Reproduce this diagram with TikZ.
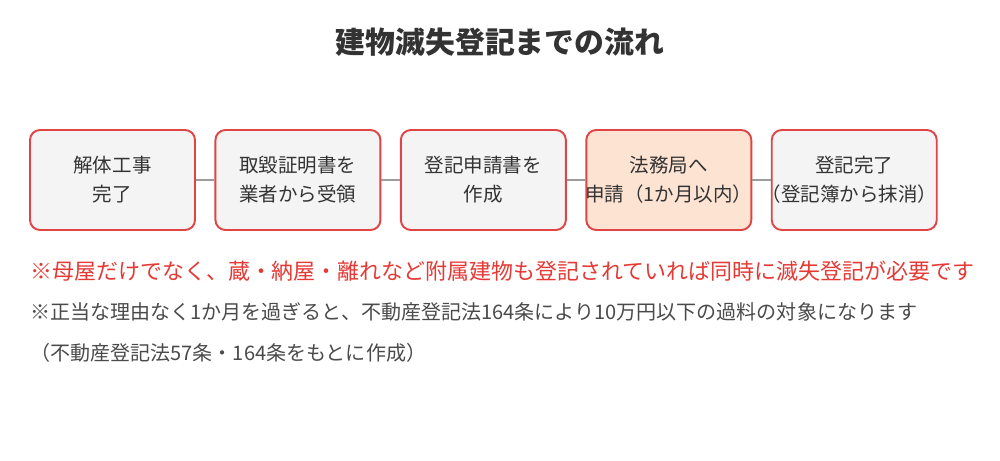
\documentclass[tikz,border=0pt]{standalone}
\usepackage{fontspec}
\setmainfont{Noto Sans CJK JP}
\usetikzlibrary{positioning}
\definecolor{boxred}{HTML}{E04444}
\definecolor{boxgray}{HTML}{F4F4F4}
\definecolor{boxpeach}{HTML}{FCE3D2}
\definecolor{linkgray}{HTML}{9C9C9C}
\definecolor{textdark}{HTML}{333333}
\definecolor{notered}{HTML}{E53935}
\definecolor{notegray}{HTML}{4A4A4A}
\newcommand{\fitline}[1]{\makebox[3cm]{#1}}

\begin{document}
\begin{tikzpicture}[
    flowbox/.style={draw=boxred, line width=1.1pt, rounded corners=0.2cm, fill=boxgray,
      minimum width=3.3cm, minimum height=2cm, inner sep=0pt, align=center,
      text=textdark, font=\fontsize{11.1}{16.5}\selectfont},
    link/.style={draw=linkgray, line width=1.6pt},
    note/.style={anchor=west, inner sep=0pt, font=\fontsize{11.4}{14}\selectfont, text=notegray},
    node distance=0.37cm
  ]
  \useasboundingbox (0,0) rectangle (20,-9.2);
  \node[font=\bfseries\fontsize{17}{20}\selectfont, text=textdark] (title) at (10,-0.84) {建物滅失登記までの流れ};
  \node[flowbox] (kaitai) at (2.25,-3.6) {解体工事\\完了};
  \node[flowbox, right=of kaitai] (shomei) {取毀証明書を\\業者から受領};
  \node[flowbox, right=of shomei] (shinseisho) {登記申請書を\\作成};
  \node[flowbox, right=of shinseisho, fill=boxpeach] (homukyoku) {法務局へ\\\fitline{申請（1か月以内）}};
  \node[flowbox, right=of homukyoku] (kanryo) {登記完了\\\fitline{\hspace{-0.5em}（登記簿から抹消）}};
  \draw[link] (kaitai) -- (shomei);
  \draw[link] (shomei) -- (shinseisho);
  \draw[link] (shinseisho) -- (homukyoku);
  \draw[link] (homukyoku) -- (kanryo);
  \node[note, text=notered, font=\fontsize{12.5}{15}\selectfont] (fuzoku) at (0.6,-5.42) {※母屋だけでなく、蔵・納屋・離れなど附属建物も登記されていれば同時に滅失登記が必要です};
  \node[note] (karyo) at (0.6,-6.24) {※正当な理由なく1か月を過ぎると、不動産登記法164条により10万円以下の過料の対象になります};
  \node[note] (shutten) at (0.6,-7.06) {（不動産登記法57条・164条をもとに作成）};
\end{tikzpicture}
\end{document}
